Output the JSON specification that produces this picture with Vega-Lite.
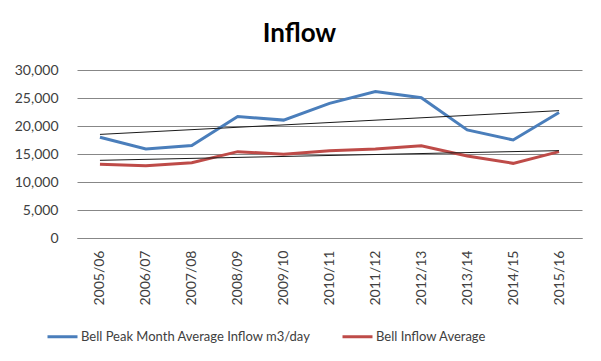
{
  "$schema": "https://vega.github.io/schema/vega-lite/v6.json",
  "autosize": {"type": "none"},
  "width": 505,
  "height": 168,
  "padding": {"left": 77, "top": 70, "right": 19, "bottom": 123},
  "background": "white",
  "title": {"text": "Inflow", "font": "Lato", "fontSize": 26, "fontWeight": "bold", "color": "#000000", "anchor": "middle", "dx": -30, "offset": 16},
  "config": {
    "font": "Lato",
    "view": {"stroke": null},
    "axis": {"labelFont": "Lato", "labelFontSize": 14, "labelColor": "#404040", "ticks": false, "title": null}
  },
  "datasets": {
    "main": [
      {"year": "2005/06", "series": "Bell Peak Month Average Inflow m3/day", "value": 18000},
      {"year": "2006/07", "series": "Bell Peak Month Average Inflow m3/day", "value": 15900},
      {"year": "2007/08", "series": "Bell Peak Month Average Inflow m3/day", "value": 16500},
      {"year": "2008/09", "series": "Bell Peak Month Average Inflow m3/day", "value": 21700},
      {"year": "2009/10", "series": "Bell Peak Month Average Inflow m3/day", "value": 21050},
      {"year": "2010/11", "series": "Bell Peak Month Average Inflow m3/day", "value": 24050},
      {"year": "2011/12", "series": "Bell Peak Month Average Inflow m3/day", "value": 26150},
      {"year": "2012/13", "series": "Bell Peak Month Average Inflow m3/day", "value": 25050},
      {"year": "2013/14", "series": "Bell Peak Month Average Inflow m3/day", "value": 19300},
      {"year": "2014/15", "series": "Bell Peak Month Average Inflow m3/day", "value": 17500},
      {"year": "2015/16", "series": "Bell Peak Month Average Inflow m3/day", "value": 22400},
      {"year": "2005/06", "series": "Bell Inflow Average", "value": 13150},
      {"year": "2006/07", "series": "Bell Inflow Average", "value": 12920},
      {"year": "2007/08", "series": "Bell Inflow Average", "value": 13450},
      {"year": "2008/09", "series": "Bell Inflow Average", "value": 15420},
      {"year": "2009/10", "series": "Bell Inflow Average", "value": 14940},
      {"year": "2010/11", "series": "Bell Inflow Average", "value": 15600},
      {"year": "2011/12", "series": "Bell Inflow Average", "value": 15900},
      {"year": "2012/13", "series": "Bell Inflow Average", "value": 16480},
      {"year": "2013/14", "series": "Bell Inflow Average", "value": 14640},
      {"year": "2014/15", "series": "Bell Inflow Average", "value": 13330},
      {"year": "2015/16", "series": "Bell Inflow Average", "value": 15420}
    ],
    "trend": [
      {"year": "2005/06", "series": "Peak trend", "value": 18500},
      {"year": "2015/16", "series": "Peak trend", "value": 22740},
      {"year": "2005/06", "series": "Average trend", "value": 13870},
      {"year": "2015/16", "series": "Average trend", "value": 15600}
    ]
  },
  "encoding": {
    "x": {
      "field": "year", "type": "ordinal",
      "scale": {"paddingInner": 0, "paddingOuter": 0},
      "axis": {"labelAngle": -90, "labelPadding": 12, "domainColor": "#878787", "domainWidth": 1, "grid": false}
    },
    "y": {
      "field": "value", "type": "quantitative",
      "scale": {"domain": [0, 30000], "nice": false},
      "axis": {"values": [0, 5000, 10000, 15000, 20000, 25000, 30000], "format": ",.0f", "labelPadding": 19, "domain": false, "gridColor": "#878787", "gridWidth": 1}
    }
  },
  "layer": [
    {
      "data": {"name": "main"},
      "mark": {"type": "line", "strokeWidth": 3},
      "encoding": {
        "color": {
          "field": "series", "type": "nominal",
          "scale": {"domain": ["Bell Peak Month Average Inflow m3/day", "Bell Inflow Average"], "range": ["#4A7EBB", "#BE4B48"]},
          "legend": {"title": null, "orient": "none", "legendX": -31, "legendY": 250, "direction": "horizontal", "symbolType": "stroke", "symbolStrokeWidth": 3, "symbolSize": 900, "labelFontSize": 13, "labelLimit": 400, "labelColor": "#404040", "labelFont": "Lato", "columnPadding": 25, "labelOffset": 2}
        }
      }
    },
    {
      "data": {"name": "trend"},
      "mark": {"type": "line", "strokeWidth": 1, "color": "#1a1a1a"},
      "encoding": {"detail": {"field": "series", "type": "nominal"}}
    }
  ]
}
